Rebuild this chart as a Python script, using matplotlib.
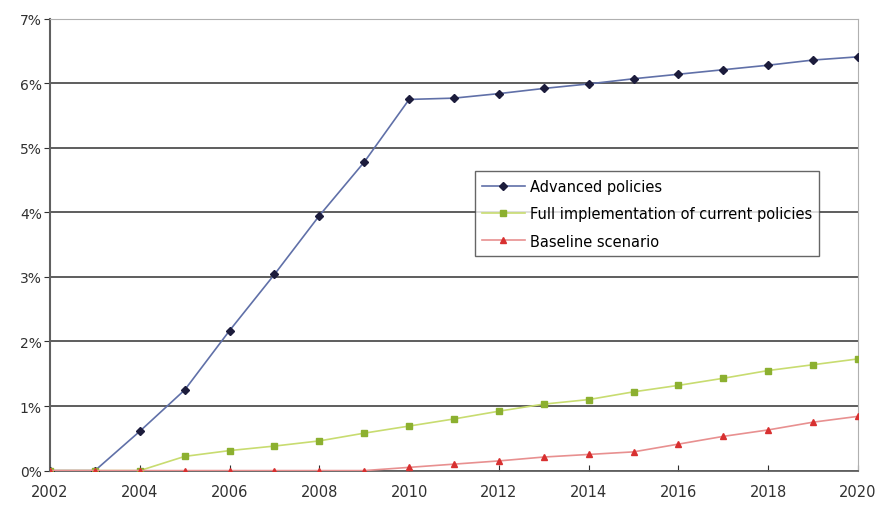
import matplotlib
matplotlib.use('Agg')
import matplotlib.pyplot as plt
from matplotlib.ticker import FuncFormatter

years = list(range(2002, 2021))

advanced = [0.0, 0.0, 0.61, 1.25, 2.17, 3.04, 3.95, 4.78, 5.75, 5.77,
            5.84, 5.92, 5.99, 6.07, 6.14, 6.21, 6.28, 6.36, 6.41]
full_impl = [0.0, 0.0, 0.0, 0.22, 0.31, 0.38, 0.46, 0.58, 0.69, 0.80,
             0.92, 1.03, 1.10, 1.22, 1.32, 1.43, 1.55, 1.64, 1.73]
baseline = [0.0, 0.0, 0.0, 0.0, 0.0, 0.0, 0.0, 0.0, 0.05, 0.10,
            0.15, 0.21, 0.25, 0.29, 0.41, 0.53, 0.63, 0.75, 0.84]

labels = ['Advanced policies', 'Full implementation of current policies', 'Baseline scenario']

fig = plt.figure(figsize=(8.79, 5.06), dpi=100)
ax = fig.add_axes([0.057, 0.068, 0.919, 0.893])

ax.plot(years, advanced, color='#6070a8', lw=1.2, marker='D', ms=4,
        mfc='#1c1c3c', mec='#1c1c3c', label=labels[0], zorder=4)
ax.plot(years, full_impl, color='#c8dc70', lw=1.2, marker='s', ms=5,
        mfc='#8cb030', mec='#8cb030', label=labels[1], zorder=4)
ax.plot(years, baseline, color='#e89090', lw=1.2, marker='^', ms=5,
        mfc='#d83030', mec='#d83030', label=labels[2], zorder=4)

ax.set_xlim(2002, 2020)
ax.set_ylim(0, 7)
ax.set_xticks(range(2002, 2021, 2))
ax.set_yticks(range(0, 8))
ax.yaxis.set_major_formatter(FuncFormatter(lambda v, p: '%d%%' % v))
ax.grid(axis='y', color='#505050', lw=1.3)
ax.set_axisbelow(True)

for s in ['top', 'right']:
    ax.spines[s].set_color('#b0b0b0')
    ax.spines[s].set_linewidth(0.8)
ax.spines['left'].set_color('#606060')
ax.spines['left'].set_linewidth(1.5)
ax.spines['bottom'].set_color('#606060')
ax.spines['bottom'].set_linewidth(1.3)

ax.tick_params(axis='x', direction='in', length=4, labelsize=10.5, colors='#303030', pad=10)
ax.tick_params(axis='y', direction='out', length=4, labelsize=10, colors='#303030', pad=2)

leg = ax.legend(loc='upper left', bbox_to_anchor=(0.526, 0.662), fontsize=10.5,
                frameon=True, fancybox=False, edgecolor='#404040',
                handlelength=2.9, handletextpad=0.35, borderpad=0.5,
                labelspacing=0.85, borderaxespad=0)
leg.get_frame().set_linewidth(1.0)

fig.savefig('out.png', dpi=100, facecolor='white')
